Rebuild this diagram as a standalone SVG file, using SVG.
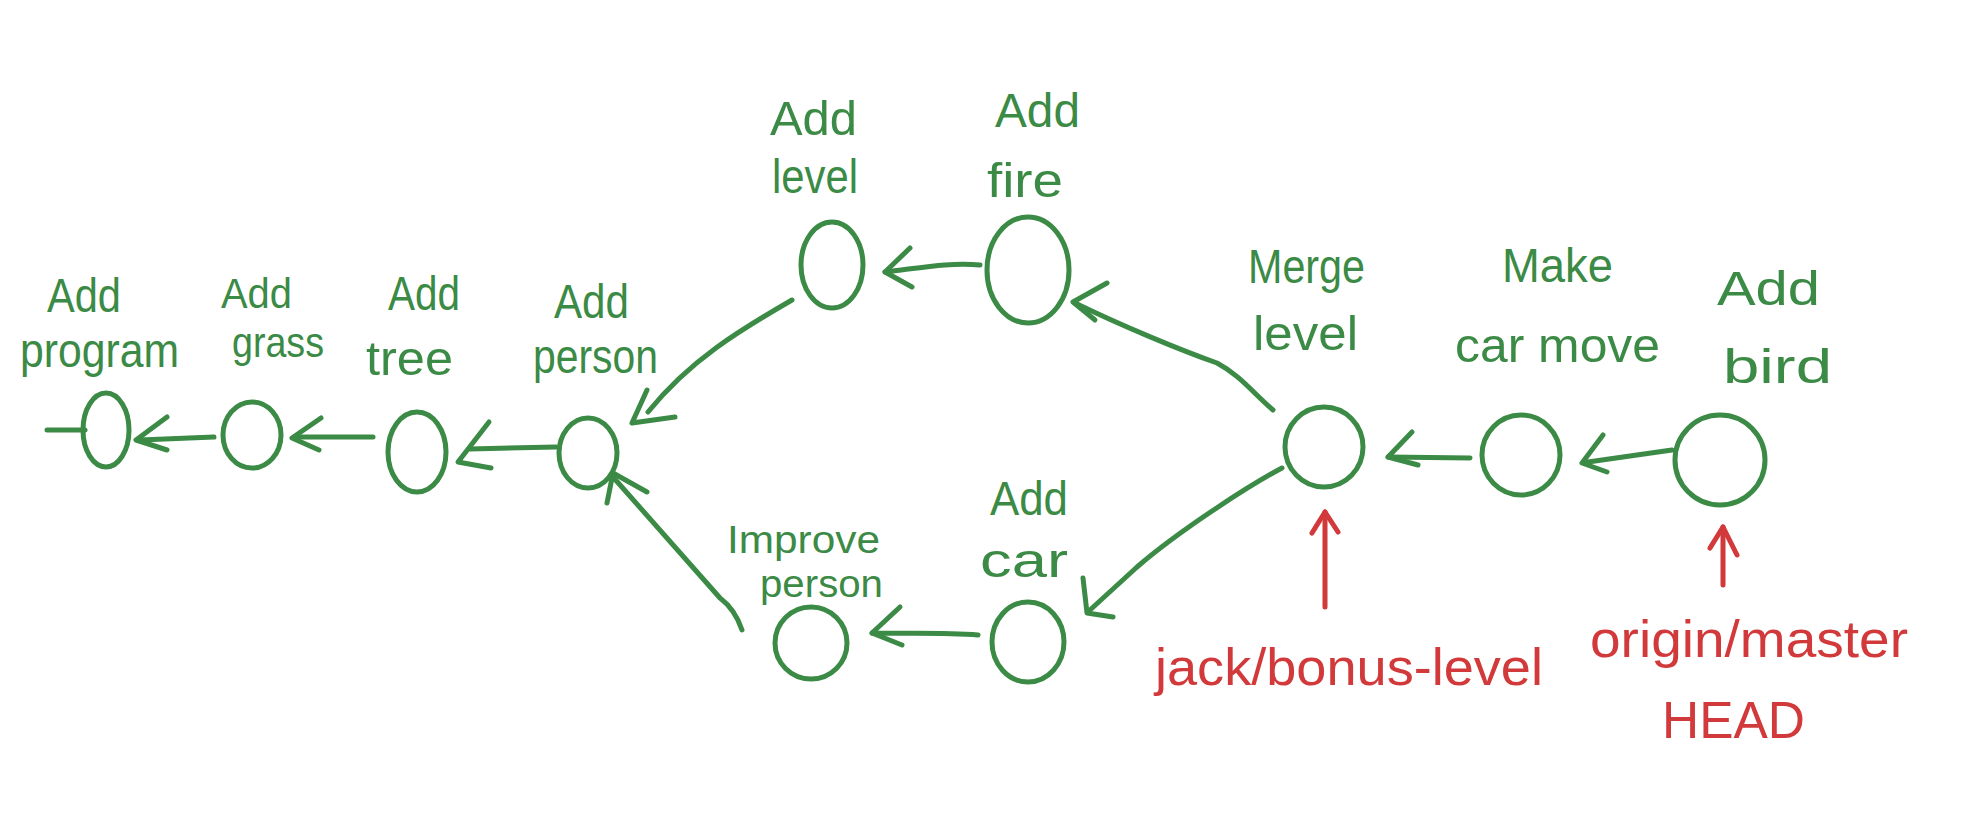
<svg xmlns="http://www.w3.org/2000/svg" width="1969" height="819" viewBox="0 0 1969 819">
<style>
.bg{fill:#ffffff}
.node{fill:none;stroke:#3b8a45;stroke-width:5}
.lbl{font-family:"Liberation Sans","DejaVu Sans",sans-serif;font-size:48px;fill:#3b8a45}
.sm{font-size:43px}
.xs{font-size:39px}
.ref{font-family:"Liberation Sans","DejaVu Sans",sans-serif;font-size:52px;fill:#d2393b}
.edge{fill:none;stroke:#3b8a45;stroke-width:5;stroke-linecap:round;stroke-linejoin:round}
.redge{fill:none;stroke:#d2393b;stroke-width:5;stroke-linecap:round;stroke-linejoin:round}
</style>
<rect class="bg" x="0" y="0" width="1969" height="819"/>

<g id="connectors">
  <path class="edge" d="M47,430 L85,430"/>
  <path class="edge" d="M214,437 L140,440"/>
  <path class="edge" d="M167,417 L136,440 L167,450"/>
  <path class="edge" d="M373,437 L295,437"/>
  <path class="edge" d="M321,418 L292,438 L319,450"/>
  <path class="edge" d="M556,447 L470,449"/>
  <path class="edge" d="M489,422 L458,462 L491,468"/>
  <path class="edge" d="M792,300 C740,330 690,360 648,412"/>
  <path class="edge" d="M647,390 L632,423 L675,417"/>
  <path class="edge" d="M742,630 C736,612 728,604 720,598 L613,477"/>
  <path class="edge" d="M607,503 L613,473 L647,492"/>
  <path class="edge" d="M980,265 C950,262 920,268 885,272"/>
  <path class="edge" d="M910,248 L885,272 L912,287"/>
  <path class="edge" d="M978,635 C940,632 900,634 872,633"/>
  <path class="edge" d="M900,607 L872,633 L902,645"/>
  <path class="edge" d="M1273,410 C1255,395 1240,375 1217,363 C1180,350 1120,325 1075,303"/>
  <path class="edge" d="M1107,283 L1073,302 L1095,320"/>
  <path class="edge" d="M1282,468 C1250,485 1180,530 1137,567 L1090,610"/>
  <path class="edge" d="M1083,578 L1087,613 L1113,617"/>
  <path class="edge" d="M1470,458 L1388,457"/>
  <path class="edge" d="M1412,432 L1388,457 L1418,465"/>
  <path class="edge" d="M1672,450 L1588,462"/>
  <path class="edge" d="M1603,435 L1582,463 L1607,472"/>
  <path class="redge" d="M1325,607 L1325,512"/>
  <path class="redge" d="M1312,533 L1325,512 L1338,532"/>
  <path class="redge" d="M1723,585 L1723,527"/>
  <path class="redge" d="M1710,548 L1723,527 L1737,555"/>
</g>

<g id="node-add-program">
  <ellipse class="node" cx="106" cy="430" rx="23" ry="37"/>
  <text class="lbl" x="47" y="312" textLength="74" lengthAdjust="spacingAndGlyphs">Add</text>
  <text class="lbl" x="20" y="367" textLength="159" lengthAdjust="spacingAndGlyphs">program</text>
</g>
<g id="node-add-grass">
  <ellipse class="node" cx="252" cy="435" rx="29" ry="33"/>
  <text class="lbl sm" x="221" y="308" textLength="71" lengthAdjust="spacingAndGlyphs">Add</text>
  <text class="lbl sm" x="232" y="357" textLength="92" lengthAdjust="spacingAndGlyphs">grass</text>
</g>
<g id="node-add-tree">
  <ellipse class="node" cx="417" cy="452" rx="29" ry="40"/>
  <text class="lbl" x="388" y="310" textLength="72" lengthAdjust="spacingAndGlyphs">Add</text>
  <text class="lbl" x="366" y="375" textLength="87" lengthAdjust="spacingAndGlyphs">tree</text>
</g>
<g id="node-add-person">
  <ellipse class="node" cx="588" cy="453" rx="29" ry="35"/>
  <text class="lbl" x="554" y="318" textLength="75" lengthAdjust="spacingAndGlyphs">Add</text>
  <text class="lbl" x="533" y="373" textLength="125" lengthAdjust="spacingAndGlyphs">person</text>
</g>
<g id="node-add-level">
  <ellipse class="node" cx="832" cy="265" rx="31" ry="43"/>
  <text class="lbl" x="770" y="135" textLength="87" lengthAdjust="spacingAndGlyphs">Add</text>
  <text class="lbl" x="772" y="193" textLength="86" lengthAdjust="spacingAndGlyphs">level</text>
</g>
<g id="node-add-fire">
  <ellipse class="node" cx="1028" cy="270" rx="41" ry="53"/>
  <text class="lbl" x="995" y="127" textLength="85" lengthAdjust="spacingAndGlyphs">Add</text>
  <text class="lbl" x="987" y="197" textLength="76" lengthAdjust="spacingAndGlyphs">fire</text>
</g>
<g id="node-improve-person">
  <ellipse class="node" cx="811" cy="643" rx="36" ry="36"/>
  <text class="lbl xs" x="727" y="553" textLength="153" lengthAdjust="spacingAndGlyphs">Improve</text>
  <text class="lbl xs" x="760" y="597" textLength="123" lengthAdjust="spacingAndGlyphs">person</text>
</g>
<g id="node-add-car">
  <ellipse class="node" cx="1028" cy="642" rx="36" ry="40"/>
  <text class="lbl" x="990" y="515" textLength="78" lengthAdjust="spacingAndGlyphs">Add</text>
  <text class="lbl" x="980" y="577" textLength="88" lengthAdjust="spacingAndGlyphs">car</text>
</g>
<g id="node-merge-level">
  <ellipse class="node" cx="1324" cy="447" rx="39" ry="40"/>
  <text class="lbl" x="1248" y="283" textLength="117" lengthAdjust="spacingAndGlyphs">Merge</text>
  <text class="lbl" x="1253" y="350" textLength="105" lengthAdjust="spacingAndGlyphs">level</text>
</g>
<g id="node-make-car-move">
  <ellipse class="node" cx="1521" cy="455" rx="39" ry="40"/>
  <text class="lbl" x="1502" y="282" textLength="111" lengthAdjust="spacingAndGlyphs">Make</text>
  <text class="lbl" x="1455" y="362" textLength="205" lengthAdjust="spacingAndGlyphs">car move</text>
</g>
<g id="node-add-bird">
  <ellipse class="node" cx="1720" cy="460" rx="45" ry="45"/>
  <text class="lbl" x="1717" y="305" textLength="103" lengthAdjust="spacingAndGlyphs">Add</text>
  <text class="lbl" x="1723" y="383" textLength="109" lengthAdjust="spacingAndGlyphs">bird</text>
</g>

<g id="ref-jack-bonus-level">
  <text class="ref" x="1155" y="685" textLength="388" lengthAdjust="spacingAndGlyphs">jack/bonus-level</text>
</g>
<g id="ref-origin-master-head">
  <text class="ref" x="1590" y="657" textLength="318" lengthAdjust="spacingAndGlyphs">origin/master</text>
  <text class="ref" x="1662" y="738" textLength="143" lengthAdjust="spacingAndGlyphs">HEAD</text>
</g>
</svg>
